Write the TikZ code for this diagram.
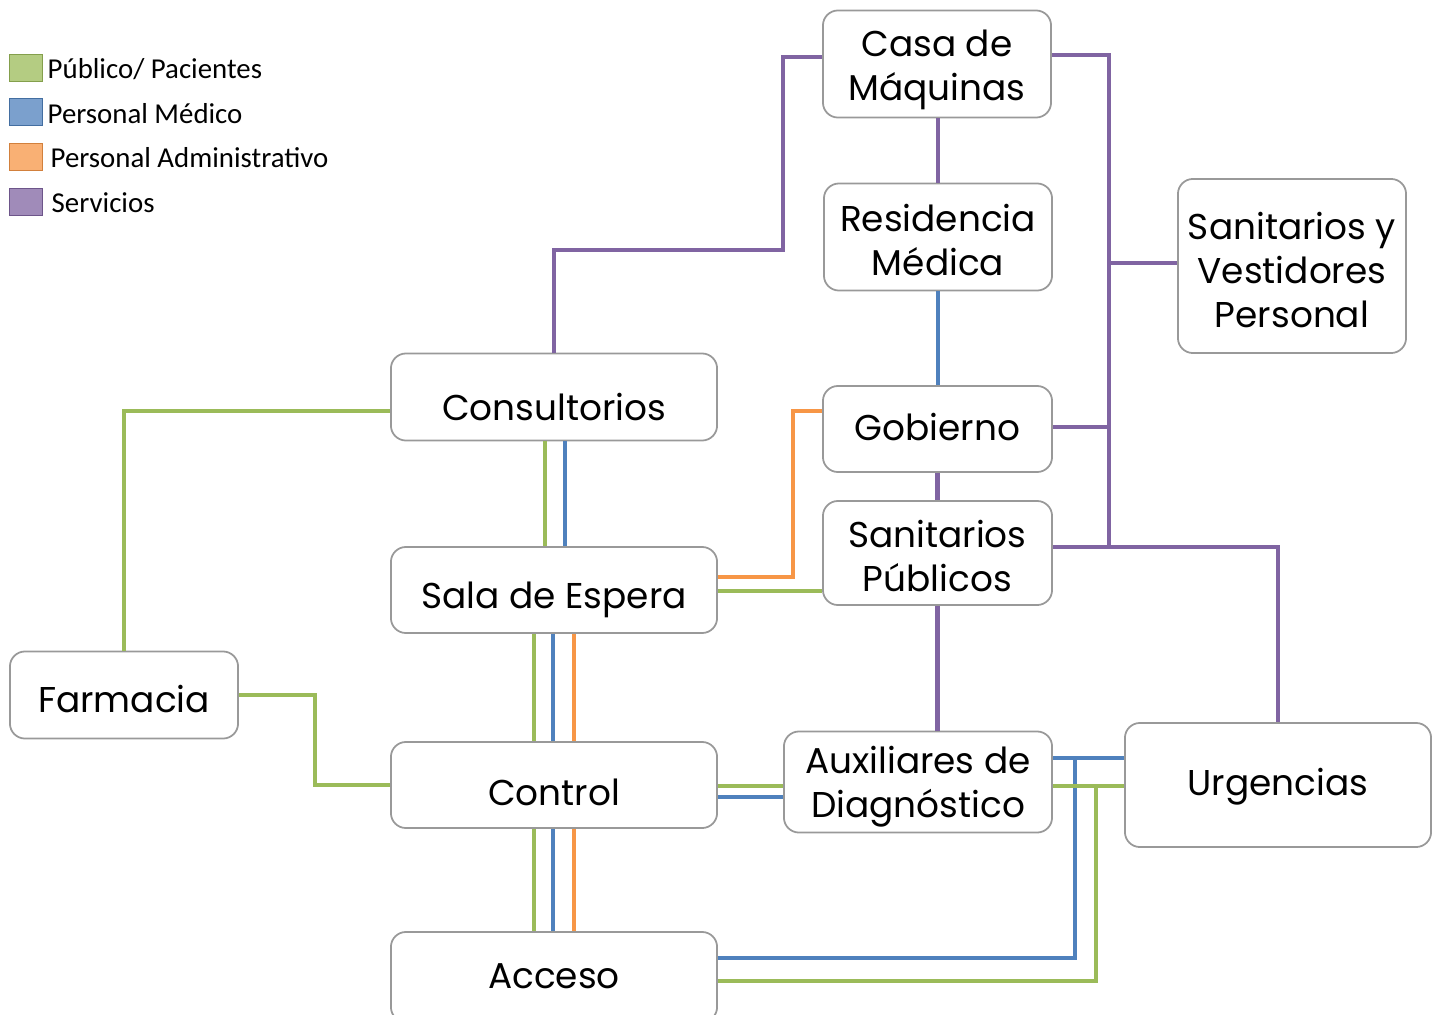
\documentclass[tikz,border=0pt]{standalone}
\usepackage{fontspec}
\setmainfont{Poppins}
\newfontfamily\leyendafont{Carlito}
\definecolor{verde}{RGB}{155,187,89}
\definecolor{azul}{RGB}{79,129,189}
\definecolor{naranja}{RGB}{247,150,70}
\definecolor{morado}{RGB}{128,100,162}
% texto de caja, bajado un poco
\newcommand{\texto}[2][0pt]{\raisebox{-#1}[\height][\depth]{\begin{tabular}{@{}c@{}}#2\end{tabular}}}
\tikzset{
  caja/.style={draw=black!40, line width=0.5pt, rounded corners=0.15cm, fill=white,
    inner sep=0pt, font=\fontsize{10.2}{12.5}\selectfont},
  linea/.style={line width=1.4pt},
  cuadro/.style={draw=#1!85!black, fill=#1!75, line width=0.4pt,
    minimum width=0.33cm, minimum height=0.27cm, inner sep=0pt},
  leyenda/.style={anchor=west, inner sep=0pt, font=\leyendafont\fontsize{8.2}{10}\selectfont},
}
\begin{document}
\begin{tikzpicture}[x=0.01cm, y=-0.01cm]
  \useasboundingbox (0,0) rectangle (1439,1015);

  % leyenda
  \node[cuadro=verde] (cv) at (26,68) {};
  \node[cuadro=azul] (ca) at (26,112) {};
  \node[cuadro=naranja] (cn) at (26,157) {};
  \node[cuadro=morado] (cm) at (26,202) {};
  \node[leyenda] (lv) at (47,69) {Público/ Pacientes};
  \node[leyenda] (la) at (47,114) {Personal Médico};
  \node[leyenda] (ln) at (50,158) {Personal Administrativo};
  \node[leyenda] (lm) at (51,203) {Servicios};

  % areas
  \node[caja, minimum width=2.28cm, minimum height=1.07cm] (casa) at (937,64) {\texto[1.7pt]{Casa de\\Máquinas}};
  \node[caja, minimum width=2.28cm, minimum height=1.07cm] (resid) at (938,237) {\texto[2.3pt]{Residencia\\Médica}};
  \node[caja, minimum width=2.28cm, minimum height=1.74cm] (sanvest) at (1292,266) {\texto[2.6pt]{Sanitarios y\\Vestidores\\Personal}};
  \node[caja, minimum width=3.26cm, minimum height=0.87cm] (consul) at (554,397) {\texto[4.3pt]{Consultorios}};
  \node[caja, minimum width=2.29cm, minimum height=0.86cm] (gob) at (937.5,429) {\texto[0.9pt]{Gobierno}};
  \node[caja, minimum width=2.29cm, minimum height=1.04cm] (sanpub) at (937.5,553) {\texto[2.1pt]{Sanitarios\\Públicos}};
  \node[caja, minimum width=3.26cm, minimum height=0.86cm] (sala) at (554,590) {\texto[2.8pt]{Sala de Espera}};
  \node[caja, minimum width=2.28cm, minimum height=0.87cm] (farm) at (124,695) {\texto[2.6pt]{Farmacia}};
  \node[caja, minimum width=3.26cm, minimum height=0.86cm] (control) at (554,785) {\texto[3.4pt]{Control}};
  \node[caja, minimum width=2.68cm, minimum height=1.01cm] (aux) at (918,782) {\texto[1.4pt]{Auxiliares de\\Diagnóstico}};
  \node[caja, minimum width=3.06cm, minimum height=1.24cm] (urg) at (1278,785) {\texto[0.6pt]{Urgencias}};
  \node[caja, minimum width=3.26cm, minimum height=0.90cm] (acceso) at (554,977) {\texto[0.9pt]{Acceso}};

  % servicios
  \draw[linea, morado] (consul.north) |- (783,250) |- (casa.west |- 0,57);
  \draw[linea, morado] (casa.south -| 938,0) -- (resid.north -| 938,0);
  \draw[linea, morado] (casa.east |- 0,55) -| (1109,547);
  \draw[linea, morado] (1109,263) -- (sanvest.west |- 0,263);
  \draw[linea, morado] (gob.east |- 0,427) -- (1109,427);
  \draw[linea, morado] (sanpub.east |- 0,547) -| (urg.north);
  \draw[linea, morado] (gob.south) -- (sanpub.north);
  \draw[linea, morado] (sanpub.south) -- (sanpub.south |- aux.north);

  % personal medico
  \draw[linea, azul] (resid.south) -- (gob.north -| resid.south);
  \draw[linea, azul] (consul.south -| 565,0) -- (sala.north -| 565,0);
  \draw[linea, azul] (sala.south -| 553,0) -- (control.north -| 553,0);
  \draw[linea, azul] (control.south -| 553,0) -- (acceso.north -| 553,0);
  \draw[linea, azul] (control.east |- 0,797) -- (aux.west |- 0,797);
  \draw[linea, azul] (aux.east |- 0,758) -- (urg.west |- 0,758);
  \draw[linea, azul] (1075,758) |- (acceso.east |- 0,958);

  % publico
  \draw[linea, verde] (consul.west |- 0,411) -| (farm.north);
  \draw[linea, verde] (farm.east) -| (315,785) -- (control.west);
  \draw[linea, verde] (consul.south -| 545,0) -- (sala.north -| 545,0);
  \draw[linea, verde] (sala.south -| 534,0) -- (control.north -| 534,0);
  \draw[linea, verde] (control.south -| 534,0) -- (acceso.north -| 534,0);
  \draw[linea, verde] (sala.east |- 0,591) -- (sanpub.west |- 0,591);
  \draw[linea, verde] (control.east |- 0,786) -- (aux.west |- 0,786);
  \draw[linea, verde] (aux.east |- 0,786) -- (urg.west |- 0,786);
  \draw[linea, verde] (1096,786) |- (acceso.east |- 0,981);

  % administrativo
  \draw[linea, naranja] (sala.east |- 0,577) -| (793,411) -- (gob.west |- 0,411);
  \draw[linea, naranja] (sala.south -| 574,0) -- (control.north -| 574,0);
  \draw[linea, naranja] (control.south -| 574,0) -- (acceso.north -| 574,0);
\end{tikzpicture}
\end{document}
